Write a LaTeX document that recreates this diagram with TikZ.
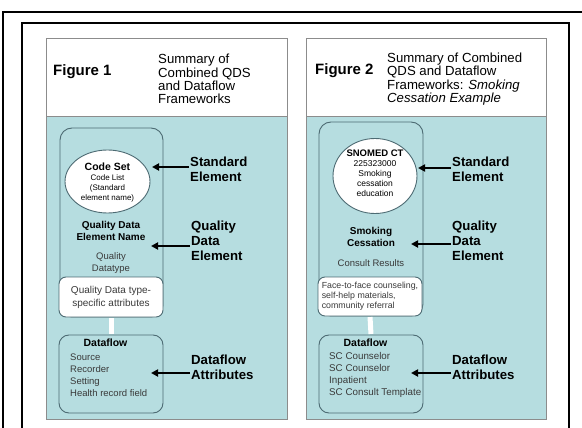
\documentclass[tikz,border=0pt]{standalone}
\usepackage{fontspec}
\setmainfont{Liberation Sans}
\usetikzlibrary{arrows.meta,shapes.geometric}
\definecolor{teal1}{HTML}{B6DDE0}
\definecolor{edge1}{HTML}{4D6B73}
\definecolor{pgrey}{HTML}{8C8C8C}
\definecolor{tgrey}{HTML}{3A3A3A}
\newcommand\fsz[2]{\fontsize{#1}{#2}\selectfont}
\begin{document}
\begin{tikzpicture}[x=1pt,y=-1pt,
 frame/.style={line width=1.5pt,draw=black},
 panel/.style={draw=pgrey,line width=1pt},
 grp/.style={draw=edge1,line width=0.9pt,fill=teal1,rounded corners=12pt,inner sep=0pt},
 wbox/.style={draw=edge1,line width=0.9pt,fill=white,rounded corners=7pt,inner sep=0pt},
 dbox/.style={draw=edge1,line width=0.9pt,fill=teal1,rounded corners=10pt,inner sep=0pt},
 oval/.style={ellipse,draw=edge1,line width=0.9pt,fill=white,inner sep=0pt},
 lab/.style={font=\fsz{13.2}{15}\bfseries,align=left,anchor=west,inner sep=1pt},
 head/.style={font=\fsz{13.2}{13.4},align=left,anchor=west,inner sep=0pt},
 fig/.style={font=\fsz{15}{16}\bfseries,anchor=west,inner sep=0pt},
 qname/.style={font=\fsz{10}{12}\bfseries,align=center,inner sep=0pt},
 qtype/.style={font=\fsz{9.5}{12},text=tgrey,align=center,inner sep=0pt},
 dtitle/.style={font=\fsz{10.5}{12}\bfseries,inner sep=0pt},
 dlist/.style={font=\fsz{9.5}{12},text=tgrey,align=left,anchor=west,inner sep=0pt},
 arr/.style={line width=2pt,-{Triangle[length=7pt,width=7pt]}},
 link/.style={white,line width=5pt,shorten <=0.6pt,shorten >=0.6pt}]
\useasboundingbox (0,0) rectangle (582,428);
\fill[white] (0,0) rectangle (582,428);
% frames
\draw[frame] (582,12) -- (3,12) -- (3,428);
\draw[frame] (22,428) -- (22,23) -- (569,23) -- (569,428);
% panels
\fill[white] (46,39) rectangle (287,117);
\fill[teal1] (46,117) rectangle (287,419);
\draw[panel] (46,39) rectangle (287,419);
\draw[panel] (46,117) -- (287,117);
\fill[white] (306,39) rectangle (546,117);
\fill[teal1] (306,117) rectangle (546,419);
\draw[panel] (306,39) rectangle (546,419);
\draw[panel] (306,117) -- (546,117);
% headers
\node[fig] (f1) at (53,72) {Figure 1};
\node[head] (h1) at (158,79) {Summary of\\Combined QDS\\and Dataflow\\Frameworks};
\node[fig] (f2) at (315,71) {Figure 2};
\node[head] (h2) at (387,79) {Summary of Combined\\QDS and Dataflow\\Frameworks: \textit{Smoking}\\\textit{Cessation Example}};
% ---- panel 1 body
\node[grp,minimum width=103pt,minimum height=189pt] (g1) at (111.5,222.5) {};
\node[wbox,minimum width=104pt,minimum height=40pt,font=\fsz{10}{13},text=tgrey,align=center] (w1) at (111,297) {Quality Data type-\\specific attributes};
\node[dbox,minimum width=104pt,minimum height=78pt] (d1) at (111,374) {};
\draw[link] (w1.south) -- (d1.north);
\node[oval,minimum width=85pt,minimum height=63pt] (c1) at (107.5,181.5) {};
\node[align=center,inner sep=0pt,font=\fsz{8}{10}] (c1t) at (107.5,183) {{\fsz{10.5}{10}\bfseries Code Set}\\Code List\\(Standard\\element name)};
\node[qname] (q1) at (111,231) {Quality Data\\Element Name};
\node[qtype] (t1) at (111,263) {Quality\\Datatype};
\node[dtitle] (dt1) at (105.5,343) {Dataflow};
\node[dlist] (dl1) at (70,375) {Source\\Recorder\\Setting\\Health record field};
% labels 1
\node[lab] (se1) at (189,169) {Standard\\Element};
\node[lab] (qe1) at (190,241) {Quality\\Data\\Element};
\node[lab] (da1) at (190,367) {Dataflow\\Attributes};
\coordinate (a1) at (152,167);
\coordinate (b1) at (151,246);
\coordinate (e1) at (151,373);
\draw[arr] (se1.west |- a1) -- (a1);
\draw[arr] (qe1.west |- b1) -- (b1);
\draw[arr] (da1.west |- e1) -- (e1);
% ---- panel 2 body
\node[grp,minimum width=104pt,minimum height=194pt] (g2) at (371,219) {};
\node[wbox,minimum width=104pt,minimum height=39pt,font=\fsz{8.8}{10},text=tgrey,align=left] (w2) at (370,296.5) {Face-to-face counseling,\\self-help materials,\\community referral};
\node[dbox,minimum width=104pt,minimum height=78pt] (d2) at (371,374) {};
\draw[link] (w2.south) -- (d2.north);
\node[oval,minimum width=84pt,minimum height=75pt] (c2) at (375,176) {};
\node[align=center,inner sep=0pt,font=\fsz{8.5}{10}] (c2t) at (375,173) {{\fsz{9.5}{10}\bfseries SNOMED CT}\\225323000\\Smoking\\cessation\\education};
\node[qname] (q2) at (371,237) {Smoking\\Cessation};
\node[qtype] (t2) at (371,263) {Consult Results};
\node[dtitle] (dt2) at (365.5,343) {Dataflow};
\node[dlist,font=\fsz{9.8}{12}] (dl2) at (329,375) {SC Counselor\\SC Counselor\\Inpatient\\SC Consult Template};
% labels 2
\node[lab] (se2) at (451,169) {Standard\\Element};
\node[lab] (qe2) at (451,241) {Quality\\Data\\Element};
\node[lab] (da2) at (451,367) {Dataflow\\Attributes};
\coordinate (a2) at (418,168);
\coordinate (b2) at (411,244);
\coordinate (e2) at (411,373);
\draw[arr] (se2.west |- a2) -- (a2);
\draw[arr] (qe2.west |- b2) -- (b2);
\draw[arr] (da2.west |- e2) -- (e2);
\end{tikzpicture}
\end{document}
